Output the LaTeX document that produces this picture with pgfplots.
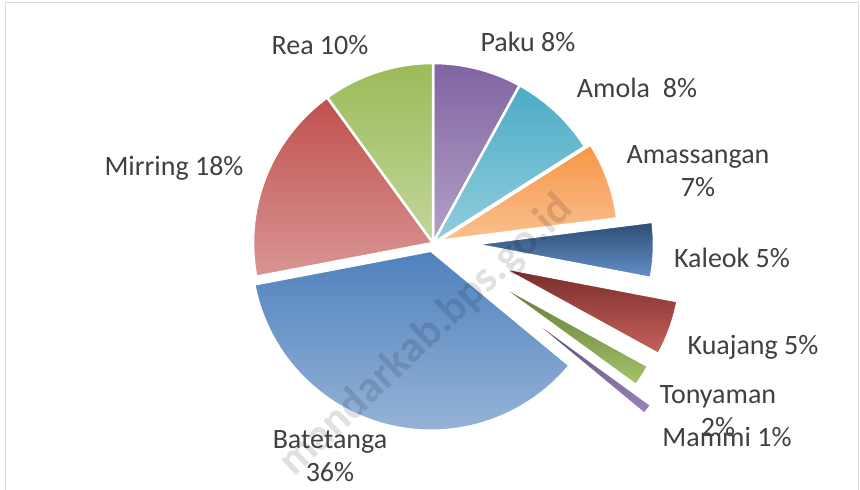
\documentclass[border=0pt]{standalone}
\usepackage{pgfplots}
\pgfplotsset{compat=1.18}
\usepackage{fontspec}
\setmainfont{Carlito}

\definecolor{txt}{HTML}{404040}
\definecolor{frame}{HTML}{D9D9D9}
\definecolor{pakuT}{HTML}{8064A2}\definecolor{pakuB}{HTML}{B3A2C7}
\definecolor{amolT}{HTML}{4BACC6}\definecolor{amolB}{HTML}{93CDDD}
\definecolor{amasT}{HTML}{F79646}\definecolor{amasB}{HTML}{FAC090}
\definecolor{kaleT}{HTML}{2C4D75}\definecolor{kaleB}{HTML}{6590C8}
\definecolor{kuajT}{HTML}{772C2A}\definecolor{kuajB}{HTML}{C8625E}
\definecolor{tonyT}{HTML}{5F7530}\definecolor{tonyB}{HTML}{A5C46C}
\definecolor{mammT}{HTML}{4D3B62}\definecolor{mammB}{HTML}{9B85BD}
\definecolor{bateT}{HTML}{4F81BD}\definecolor{bateB}{HTML}{95B3D7}
\definecolor{mirrT}{HTML}{C0504D}\definecolor{mirrB}{HTML}{D99694}
\definecolor{reaT}{HTML}{9BBB59}\definecolor{reaB}{HTML}{C3D69B}

% pie centre and radius, in px of the 860x490 picture (y upwards)
\def\cx{433}
\def\cy{247}
\def\pieR{180}
\xdef\pieacc{90}

% \slice{share in %}{explode in px}{colour prefix}
\newcommand\slice[3]{%
  \pgfmathsetmacro\sa{\pieacc}%
  \pgfmathsetmacro\sb{\pieacc-3.6*#1}%
  \pgfmathsetmacro\sm{(\sa+\sb)/2}%
  \pgfmathsetmacro\ox{\cx+#2*cos(\sm)}%
  \pgfmathsetmacro\oy{\cy+#2*sin(\sm)}%
  \edef\temp{\noexpand\addplot[draw=white, line width=2.5pt,
      top color=#3T, bottom color=#3B,
      domain=\sb:\sa, samples=60, variable=\noexpand\t]
    ({\ox+\pieR*cos(\noexpand\t)},{\oy+\pieR*sin(\noexpand\t)})
    -- (axis cs:\ox,\oy) -- cycle;}%
  \temp
  \xdef\pieacc{\sb}%
}

\begin{document}
\begin{tikzpicture}
\begin{axis}[
	width=860pt, height=490pt,
	scale only axis,
	xmin=0, xmax=860, ymin=0, ymax=490,
	hide axis,
	clip=false]

\draw[frame, line width=1pt] (axis cs:5,0) -- (axis cs:5,487) -- (axis cs:858,487) -- (axis cs:858,0);

% clockwise from 12 o'clock
\slice{8}{0}{paku}   % Paku
\slice{8}{0}{amol}   % Amola
\slice{7}{6}{amas}   % Amassangan
\slice{5}{41}{kale}  % Kaleok
\slice{5}{72}{kuaj}  % Kuajang
\slice{2}{68}{tony}  % Tonyaman
\slice{1}{92}{mamm}  % Mammi
\slice{36}{8}{bate}  % Batetanga
\slice{18}{0}{mirr}  % Mirring
\slice{10}{0}{rea}   % Rea

\node[rotate=43.5, anchor=east, text=black, opacity=0.12, inner sep=0pt,
  font=\fontsize{44}{44}\selectfont\bfseries] at (axis cs:567,287) {mandarkab.bps.go.id};

\tikzset{lbl/.style={align=center, text=txt, inner sep=0pt,
  font=\fontsize{28}{33}\selectfont}}
\node[lbl] at (axis cs:320,445) {Rea 10\%};
\node[lbl] at (axis cs:528,448) {Paku 8\%};
\node[lbl] at (axis cs:637,402) {Amola\ \ 8\%};
\node[lbl] at (axis cs:698,319) {Amassangan\\7\%};
\node[lbl] at (axis cs:732,232) {Kaleok 5\%};
\node[lbl] at (axis cs:753,143) {Kuajang 5\%};
\node[lbl] at (axis cs:718,79) {Tonyaman\\2\%};
\node[lbl] at (axis cs:727,53) {Mammi 1\%};
\node[lbl] at (axis cs:174,322) {Mirring 18\%};
\node[lbl] at (axis cs:330,34) {Batetanga\\36\%};
\end{axis}
\pgfresetboundingbox
\path (current axis.south west) rectangle (current axis.north east);
\end{tikzpicture}
\end{document}
